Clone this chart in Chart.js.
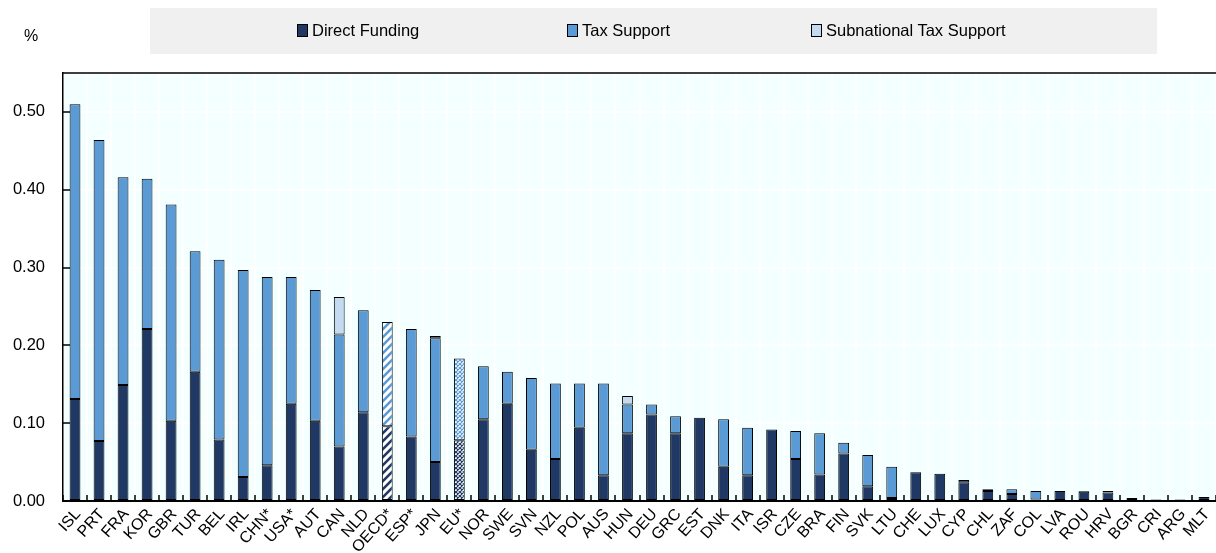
<!DOCTYPE html>
<html>
<head>
<meta charset="utf-8">
<script src="https://cdn.jsdelivr.net/npm/chart.js@4.4.1/dist/chart.umd.min.js"></script>
<style>
  html, body { margin: 0; padding: 0; background: #fff; }
  #wrap { position: relative; width: 1216px; height: 553px; font-family: 'Liberation Sans', Arial, sans-serif; color: #000; }
  #legend { position: absolute; left: 150px; top: 8px; width: 1007px; height: 46px; background: #f0f0f0; font-size: 16.5px; }
  .item { position: absolute; top: 13px; display: flex; align-items: center; white-space: nowrap; line-height: 19px; }
  .box { width: 9px; height: 11px; border: 1px solid #000; margin-right: 4px; }
  #unit { position: absolute; left: 24px; top: 27px; font-size: 16px; }
  canvas { position: absolute; left: 0; top: 0; }
</style>
</head>
<body>
<div id="wrap">
  <canvas id="chart" width="1216" height="553"></canvas>
  <div id="legend"></div>
  <div id="unit">%</div>
</div>
<script>
// Countries, sorted by total support (% of GDP)
const countries = ['ISL', 'PRT', 'FRA', 'KOR', 'GBR', 'TUR', 'BEL', 'IRL', 'CHN*', 'USA*', 'AUT', 'CAN',
    'NLD', 'OECD*', 'ESP*', 'JPN', 'EU*', 'NOR', 'SWE', 'SVN', 'NZL', 'POL', 'AUS', 'HUN', 'DEU', 'GRC',
    'EST', 'DNK', 'ITA', 'ISR', 'CZE', 'BRA', 'FIN', 'SVK', 'LTU', 'CHE', 'LUX', 'CYP', 'CHL', 'ZAF',
    'COL', 'LVA', 'ROU', 'HRV', 'BGR', 'CRI', 'ARG', 'MLT'];

const directFunding = [0.131, 0.077, 0.149, 0.221, 0.103, 0.166, 0.079, 0.031, 0.046, 0.125, 0.103, 0.070,
    0.114, 0.096, 0.083, 0.050, 0.078, 0.105, 0.125, 0.066, 0.054, 0.094, 0.033, 0.087, 0.111, 0.087,
    0.107, 0.044, 0.033, 0.092, 0.054, 0.034, 0.061, 0.019, 0.004, 0.037, 0.035, 0.024, 0.013, 0.009,
    0.002, 0.013, 0.012, 0.011, 0.004, 0.002, 0.002, 0.005];

const taxSupport = [0.379, 0.387, 0.267, 0.193, 0.278, 0.155, 0.231, 0.266, 0.242, 0.163, 0.168, 0.144,
    0.131, 0.134, 0.138, 0.159, 0.105, 0.068, 0.041, 0.092, 0.097, 0.057, 0.118, 0.037, 0.013, 0.022,
    0, 0.061, 0.061, 0, 0.036, 0.053, 0.014, 0.040, 0.040, 0, 0, 0.003, 0.002, 0.006,
    0.011, 0, 0.001, 0.002, 0, 0, 0, 0];

const subnationalTax = [0, 0, 0, 0, 0, 0, 0, 0, 0, 0, 0, 0.048,
    0, 0, 0, 0.003, 0, 0, 0, 0, 0, 0, 0, 0.011, 0, 0,
    0, 0, 0, 0, 0, 0, 0, 0, 0, 0, 0, 0, 0, 0,
    0, 0, 0, 0, 0, 0, 0, 0];

const yTicks = [0, 0.1, 0.2, 0.3, 0.4, 0.5];

// Aggregates drawn with a hatch instead of a solid fill
const hatchStyle = { 'OECD*': 'stripes', 'EU*': 'cross' };

const NAVY = '#203864';
const BLUE = '#5b9bd5';
const LIGHT = '#c3daf0';

// legend item left edges inside the grey band
const legendLeft = [147, 417, 661];

function stripes(color) {
    const c = document.createElement('canvas');
    c.width = 8; c.height = 8;
    const g = c.getContext('2d');
    g.fillStyle = '#fff';
    g.fillRect(0, 0, 8, 8);
    g.strokeStyle = color;
    g.lineWidth = 2.6;
    g.beginPath();
    g.moveTo(-1, 9); g.lineTo(9, -1);
    g.moveTo(-3, 3); g.lineTo(3, -3);
    g.moveTo(5, 11); g.lineTo(11, 5);
    g.stroke();
    return g.createPattern(c, 'repeat');
}

function crosses(color) {
    const c = document.createElement('canvas');
    c.width = 4; c.height = 4;
    const g = c.getContext('2d');
    g.fillStyle = '#fff';
    g.fillRect(0, 0, 4, 4);
    g.strokeStyle = color;
    g.lineWidth = 1.2;
    g.beginPath();
    g.moveTo(0, 0); g.lineTo(4, 4);
    g.moveTo(4, 0); g.lineTo(0, 4);
    g.stroke();
    return g.createPattern(c, 'repeat');
}

function fillFor(color) {
    const patterns = { stripes: stripes(color), cross: crosses(color) };
    return ctx => {
        const style = hatchStyle[countries[ctx.dataIndex]];
        return style ? patterns[style] : color;
    };
}

const plotFrame = {
    id: 'plotFrame',
    beforeDraw(chart) {
        const { ctx, chartArea: a } = chart;
        ctx.save();
        ctx.fillStyle = '#f4ffff';
        ctx.fillRect(a.left, a.top, a.right - a.left, a.bottom - a.top);
        ctx.restore();
    },
    afterDraw(chart) {
        const { ctx, chartArea: a } = chart;
        ctx.save();
        ctx.strokeStyle = '#000';
        ctx.lineWidth = 1.5;
        ctx.beginPath();
        ctx.moveTo(a.left, a.top);
        ctx.lineTo(a.right, a.top);
        ctx.stroke();
        ctx.restore();
    }
};

const barCommon = {
    borderColor: '#000',
    borderWidth: 1,
    borderSkipped: false,
    categoryPercentage: 0.9,
    barPercentage: 0.5
};

// empty segments are left out so they draw no border
const seg = arr => arr.map(v => (v ? v : null));

Chart.defaults.font.family = "'Liberation Sans', Arial, sans-serif";
Chart.defaults.color = '#000';

const chart = new Chart(document.getElementById('chart'), {
    type: 'bar',
    data: {
        labels: countries,
        datasets: [
            { ...barCommon, label: 'Direct Funding', data: seg(directFunding), backgroundColor: fillFor(NAVY), legendColor: NAVY },
            { ...barCommon, label: 'Tax Support', data: seg(taxSupport), backgroundColor: fillFor(BLUE), legendColor: BLUE },
            { ...barCommon, label: 'Subnational Tax Support', data: seg(subnationalTax), backgroundColor: fillFor(LIGHT), legendColor: LIGHT }
        ]
    },
    options: {
        responsive: false,
        animation: false,
        layout: { padding: { top: 73, right: 0, left: 0, bottom: 0 } },
        plugins: {
            legend: { display: false },
            tooltip: { enabled: false }
        },
        scales: {
            x: {
                stacked: true,
                grid: { offset: true, color: '#ffffff', lineWidth: 2, tickColor: '#000', tickLength: -6, tickWidth: 1.5 },
                border: { color: '#000', width: 2 },
                ticks: { autoSkip: false, maxRotation: 48, minRotation: 48, font: { size: 16 }, color: '#000', padding: 10, labelOffset: 3 },
                afterFit: s => { s.height = 52; s.paddingLeft = 0; s.paddingRight = 0; }
            },
            y: {
                stacked: true,
                min: 0,
                max: 0.55,
                afterBuildTicks: s => { s.ticks = yTicks.map(v => ({ value: v })); },
                ticks: { callback: v => v.toFixed(2), font: { size: 16.5 }, color: '#000', padding: 25 },
                grid: { color: '#ffffff', lineWidth: 2, tickColor: '#000', tickLength: -7, tickWidth: 1.5 },
                border: { color: '#000', width: 1.5 },
                afterFit: s => { s.width = 63; }
            }
        }
    },
    plugins: [plotFrame]
});

// Legend built from the chart's own datasets
const legendEl = document.getElementById('legend');
chart.data.datasets.forEach((ds, i) => {
    const item = document.createElement('div');
    item.className = 'item';
    item.style.left = legendLeft[i] + 'px';
    const box = document.createElement('span');
    box.className = 'box';
    box.style.background = ds.legendColor;
    item.appendChild(box);
    item.appendChild(document.createTextNode(ds.label));
    legendEl.appendChild(item);
});
</script>
</body>
</html>
